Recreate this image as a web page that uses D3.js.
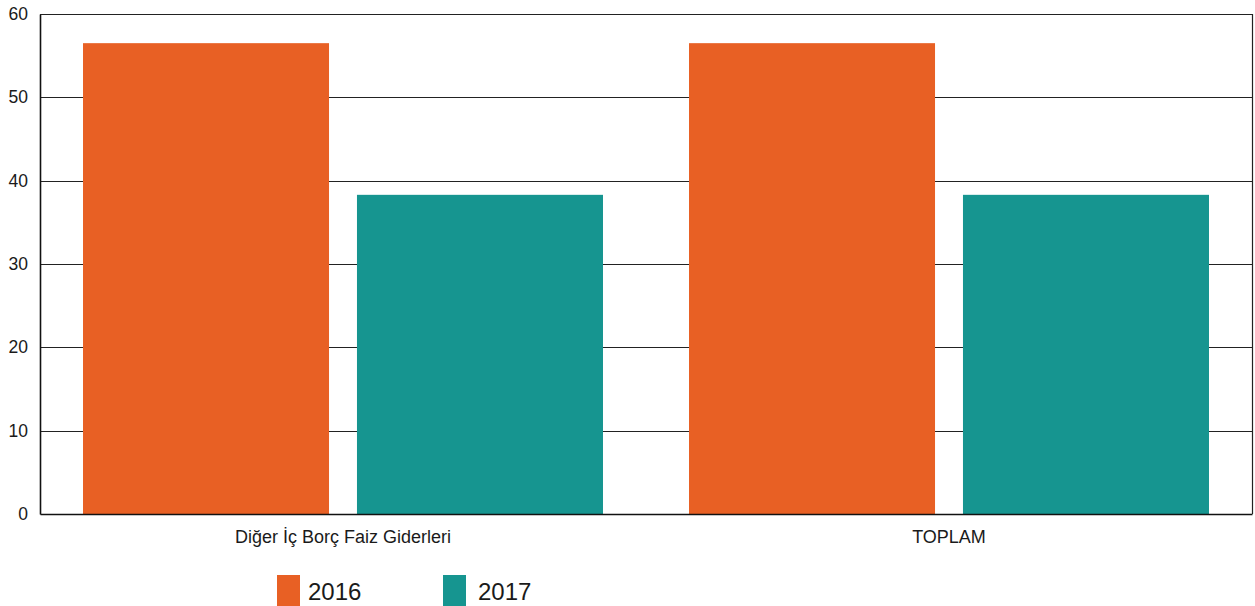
<!DOCTYPE html>
<html><head><meta charset="utf-8">
<script src="https://cdn.jsdelivr.net/npm/d3@7"></script>
<style>body{margin:0;background:#fff}svg{display:block}text{font-family:"Liberation Sans",Arial,sans-serif;fill:#1a1a1a}</style>
</head><body><svg id="c" width="1255" height="606"></svg>
<script>
const categories = ["Diğer İç Borç Faiz Giderleri", "TOPLAM"];
const seriesNames = ["2016", "2017"];
const values2016 = [56.5, 56.5];
const values2017 = [38.3, 38.3];
const yTicks = [0, 10, 20, 30, 40, 50, 60];
const colors = ["#E86024", "#169590"];

const svg = d3.select("#c");
const m = {l: 40, r: 1252, t: 14, b: 514};
const x0 = d3.scaleBand().domain(categories).range([m.l, m.r]).paddingInner(0).paddingOuter(0);
const x1 = d3.scaleBand().domain(seriesNames).range([0, x0.bandwidth()]).paddingInner(0.102).paddingOuter(0.157);
const y = d3.scaleLinear().domain([0, 60]).range([m.b, m.t]);

// gridlines
svg.append("g").selectAll("line").data(yTicks.filter(d => d > 0)).join("line")
  .attr("x1", m.l).attr("x2", m.r).attr("y1", d => Math.round(y(d)) + 0.5).attr("y2", d => Math.round(y(d)) + 0.5)
  .attr("stroke", "#222").attr("stroke-width", 1);
// right border
svg.append("line").attr("x1", m.r + 0.5).attr("x2", m.r + 0.5).attr("y1", m.t).attr("y2", m.b)
  .attr("stroke", "#222").attr("stroke-width", 1.2);

const data = categories.map((c, i) => ({c, vals: [values2016[i], values2017[i]]}));
svg.append("g").selectAll("g").data(data).join("g")
  .attr("transform", d => `translate(${x0(d.c)},0)`)
  .selectAll("rect").data(d => d.vals.map((v, j) => ({v, s: seriesNames[j], j}))).join("rect")
  .attr("x", d => x1(d.s)).attr("width", x1.bandwidth())
  .attr("y", d => y(d.v)).attr("height", d => y(0) - y(d.v) + 1)
  .attr("fill", d => colors[d.j]);

// y axis
const yAxis = svg.append("g").attr("transform", `translate(${m.l},0)`)
  .call(d3.axisLeft(y).tickValues(yTicks).tickSize(0).tickPadding(12));
yAxis.select(".domain").attr("stroke", "#111").attr("stroke-width", 1.6);
yAxis.selectAll("text").style("font-size", "17.5px").attr("fill", "#1a1a1a").style("font-family", '"Liberation Sans",Arial,sans-serif');

// x axis
const xAxis = svg.append("g").attr("transform", `translate(0,${m.b})`)
  .call(d3.axisBottom(x0).tickSize(0).tickPadding(16));
xAxis.select(".domain").attr("stroke", "#111").attr("stroke-width", 1.6);
xAxis.selectAll("text").style("font-size", "18px").attr("fill", "#1a1a1a").style("font-family", '"Liberation Sans",Arial,sans-serif');
// top border
svg.append("line").attr("x1", m.l).attr("x2", m.r + 1).attr("y1", m.t + 0.5).attr("y2", m.t + 0.5)
  .attr("stroke", "#222").attr("stroke-width", 1.2);

// legend
const legX = [277, 443];
const legTextDx = [31, 35];
const lg = svg.append("g").selectAll("g").data(seriesNames).join("g")
  .attr("transform", (d, i) => `translate(${legX[i]},575)`);
lg.append("rect").attr("width", 23).attr("height", 31).attr("fill", (d, i) => colors[i]);
lg.append("text").attr("x", (d, i) => legTextDx[i]).attr("y", 25).style("font-size", "24px").text(d => d);
</script></body></html>
